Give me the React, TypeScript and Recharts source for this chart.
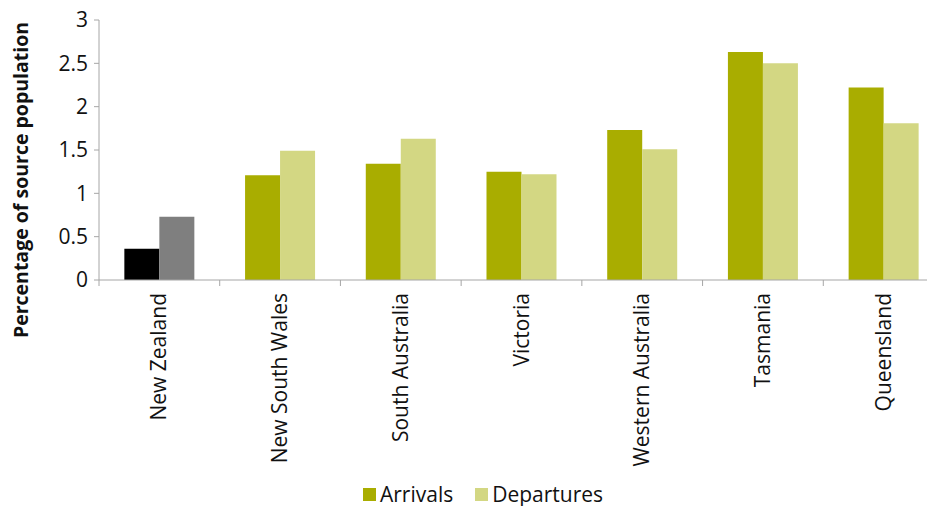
import { BarChart, Bar, XAxis, YAxis, Cell } from "recharts"

const regions = [
  "New Zealand",
  "New South Wales",
  "South Australia",
  "Victoria",
  "Western Australia",
  "Tasmania",
  "Queensland"
]

const arrivals = [0.36, 1.21, 1.34, 1.25, 1.73, 2.63, 2.22]
const departures = [0.73, 1.49, 1.63, 1.22, 1.51, 2.5, 1.81]

const yTicks = [0, 0.5, 1, 1.5, 2, 2.5, 3]

const ARR = "#A9AD00"
const DEP = "#D3D783"
const NZ_ARR = "#000000"
const NZ_DEP = "#7F7F7F"
const AXIS = "#A6A6A6"
const FONT = "'Open Sans', sans-serif"

const CHART_W = 960
const Y_W = 99
const RIGHT = 16

const data = regions.map((name, i) => ({
  name,
  arrivals: arrivals[i],
  departures: departures[i]
}))

// label plus a tick mark on the left edge of each category band (excel style)
function CategoryTick({ x, y, payload, index, width }: any) {
  const band = (width || CHART_W - Y_W - RIGHT) / regions.length
  const left = x - band / 2
  return (
    <g>
      <line x1={left} x2={left} y1={y} y2={y + 6} stroke={AXIS} />
      {index === regions.length - 1 && (
        <line x1={left + band} x2={left + band} y1={y} y2={y + 6} stroke={AXIS} />
      )}
      <text
        x={x}
        y={y}
        transform={`rotate(-90, ${x}, ${y})`}
        dx={-13}
        dy={7}
        textAnchor="end"
        fontSize={21}
        fontFamily={FONT}
        fill="#111"
      >
        {payload.value}
      </text>
    </g>
  )
}

function ChartLegend() {
  const items = [
    { label: "Arrivals", color: ARR },
    { label: "Departures", color: DEP }
  ]
  return (
    <div
      style={{
        position: "absolute",
        left: 363,
        top: 480,
        display: "flex",
        gap: 22,
        fontFamily: FONT,
        fontSize: 21,
        lineHeight: "28px",
        color: "#111"
      }}
    >
      {items.map((it) => (
        <div key={it.label} style={{ display: "flex", alignItems: "center" }}>
          <span style={{ width: 13, height: 13, background: it.color, marginRight: 4, display: "inline-block" }} />
          {it.label}
        </div>
      ))}
    </div>
  )
}

function YLabel({ viewBox }: any) {
  const cx = 20
  const cy = viewBox.y + viewBox.height / 2 + 30
  return (
    <text
      x={cx}
      y={cy}
      transform={`rotate(-90, ${cx}, ${cy})`}
      textAnchor="middle"
      dominantBaseline="central"
      fontSize={19.5}
      fontWeight={700}
      fontFamily={FONT}
      fill="#111"
    >
      Percentage of source population
    </text>
  )
}

export default function App() {
  return (
    <div style={{ position: "relative", margin: -8, width: 935, height: 514, overflow: "hidden", background: "#fff" }}>
      <BarChart
        width={CHART_W}
        height={514}
        data={data}
        barCategoryGap="21%"
        barGap={0}
        margin={{ top: 20, right: RIGHT, bottom: 44, left: 0 }}
      >
        <XAxis
          dataKey="name"
          stroke={AXIS}
          tickLine={false}
          tickSize={0}
          tickMargin={0}
          interval={0}
          height={190}
          tick={<CategoryTick />}
        />
        <YAxis
          domain={[0, 3]}
          ticks={yTicks}
          width={Y_W}
          stroke={AXIS}
          tickSize={5}
          tick={{ fill: "#111", fontSize: 21, fontFamily: FONT }}
          tickMargin={6}
          label={<YLabel />}
        />
        <Bar dataKey="arrivals" name="Arrivals" fill={ARR} isAnimationActive={false}>
          {data.map((d, i) => (
            <Cell key={d.name} fill={i === 0 ? NZ_ARR : ARR} />
          ))}
        </Bar>
        <Bar dataKey="departures" name="Departures" fill={DEP} isAnimationActive={false}>
          {data.map((d, i) => (
            <Cell key={d.name} fill={i === 0 ? NZ_DEP : DEP} />
          ))}
        </Bar>
      </BarChart>
      <ChartLegend />
    </div>
  )
}
